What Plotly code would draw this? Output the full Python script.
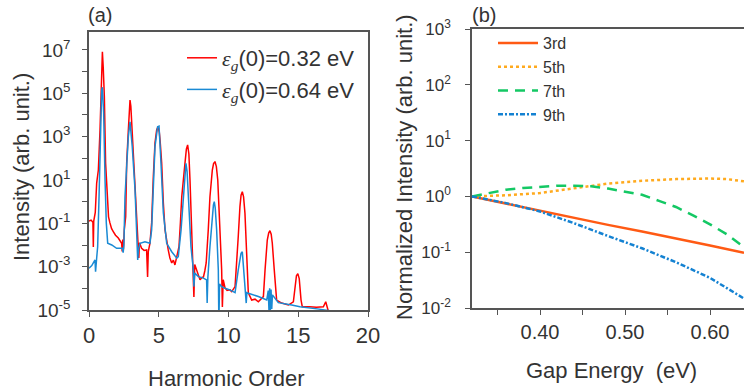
import plotly.graph_objects as go

# ---------------- Panel (a): HHG spectra (harmonic order vs log10 intensity) ----------------
red_x = [0.00, 0.15, 0.28, 0.31, 0.34, 0.45, 0.55, 0.67, 0.79, 0.86, 0.91, 0.96, 1.02, 1.10, 1.19, 1.29,
         1.40, 1.50, 1.62, 1.74, 1.90, 2.10, 2.25, 2.34, 2.38, 2.42, 2.47, 2.53, 2.63, 2.70, 2.82, 2.88, 2.94,
         3.00, 3.06, 3.18, 3.30, 3.42, 3.54, 3.57, 3.62, 3.77, 3.95, 4.13, 4.20, 4.25, 4.37, 4.49, 4.61, 4.73,
         4.85, 4.92, 4.98, 5.04, 5.10, 5.21, 5.33, 5.45, 5.68, 5.80, 5.93, 6.05, 6.16, 6.25, 6.36, 6.45, 6.55, 6.65,
         6.88, 6.98, 7.07, 7.16, 7.24, 7.36, 7.48, 7.52, 7.58, 7.72, 7.85, 7.96, 8.10, 8.20, 8.30, 8.40, 8.55,
         8.67, 8.84, 8.93, 9.03, 9.13, 9.23, 9.39, 9.51, 9.56, 9.62, 9.75, 9.90, 10.10, 10.23, 10.47, 10.60, 10.70,
         10.82, 10.90, 10.99, 11.08, 11.18, 11.30, 11.42, 11.66, 11.90, 12.14, 12.35, 12.50, 12.62, 12.78, 12.88,
         12.97, 13.06, 13.14, 13.28, 13.45, 13.81, 14.29, 14.65, 14.77, 14.87, 14.97, 15.07, 15.20, 15.29, 15.80,
         16.30, 16.80, 16.97, 17.15, 17.30]
red_log = [-0.90, -0.85, -0.95, -2.09, -0.90, -0.50, 0.86, 1.46, 3.31, 5.00, 6.40, 6.92, 6.20, 4.85, 1.78, 0.22,
           -0.70, -0.98, -1.25, -1.38, -1.55, -1.68, -1.80, -1.92, -2.30, -1.75, -2.20, -1.30, -0.69, 1.78, 3.31, 4.30, 4.69,
           4.40, 3.63, 2.08, 0.54, -0.69, -2.08, -2.60, -1.90, -2.15, -2.25, -2.23, -3.48, -2.30, -1.92, -0.98, 1.15, 2.70,
           3.31, 3.42, 3.38, 3.20, 2.80, 1.78, -0.06, -1.30, -2.23, -2.60, -2.83, -2.70, -2.92, -2.60, -2.23, -2.08, -1.00, 0.23,
           1.78, 2.42, 2.62, 2.20, 1.00, -1.30, -2.83, -4.40, -2.90, -3.15, -3.40, -3.61, -3.50, -3.48, -3.20, -2.83, -1.30,
           0.23, 1.46, 1.76, 1.85, 1.62, 1.00, -1.30, -3.15, -4.86, -3.60, -3.98, -4.10, -4.07, -4.15, -3.92, -2.80, -1.61,
           -0.23, 0.30, 0.46, 0.22, -0.54, -2.37, -4.21, -4.54, -4.50, -4.62, -4.50, -4.38, -3.15, -1.77, -1.45,
           -1.34, -1.50, -1.92, -3.15, -4.54, -4.68, -4.77, -4.62, -3.76, -3.42, -3.32, -3.55, -4.54, -4.85, -4.85,
           -4.87, -4.85, -4.62, -5.04, -5.20]

blue_x = [0.00, 0.20, 0.43, 0.47, 0.55, 0.62, 0.72, 0.81, 0.91, 0.96, 1.05, 1.15, 1.24, 1.34, 1.63, 1.98,
          2.39, 2.45, 2.50, 2.58, 2.70, 2.82, 2.94, 3.10, 3.30, 3.42, 3.49, 3.55, 3.66, 4.01, 4.37, 4.49,
          4.61, 4.73, 4.92, 5.02, 5.16, 5.33, 5.57, 5.93, 6.29, 6.40, 6.60, 6.76, 6.88, 6.95, 7.03, 7.12, 7.31, 7.48,
          7.52, 7.58, 7.84, 8.20, 8.43, 8.47, 8.52, 8.67, 8.84, 8.92, 8.98, 9.05, 9.15, 9.27, 9.31, 9.36, 9.51, 9.75,
          10.10, 10.47, 10.70, 10.90, 10.99, 11.11, 11.23, 11.27, 11.32, 11.42, 12.14, 12.74, 12.85, 12.90,
          12.95, 13.00, 13.05, 13.10, 13.15, 13.57, 14.53, 15.12, 16.50, 17.63]
blue_log = [-3.07, -2.95, -2.69, -3.23, -2.60, -2.08, 0.23, 3.31, 5.15, 5.28, 4.10, 1.00, -0.98, -1.92, -2.00, -2.15,
            -2.15, -2.35, -2.00, 0.23, 1.78, 3.00, 3.69, 2.54, 0.54, -1.30, -2.69, -2.20, -1.92, -1.85, -1.92, -1.30,
            0.54, 2.54, 3.46, 3.49, 1.78, -0.52, -1.92, -2.31, -2.61, -2.54, -1.30, 0.23, 1.45, 1.77, 1.40, 0.23, -2.08, -3.15,
            -3.92, -3.30, -3.46, -3.53, -3.61, -4.68, -3.50, -2.08, -0.69, -0.15, 0.00, -0.30, -1.30, -3.15, -5.60, -3.80, -3.92, -4.00,
            -4.07, -4.20, -3.15, -2.38, -2.31, -3.46, -4.23, -4.68, -4.20, -4.23, -4.38, -4.54, -4.10, -5.00,
            -4.00, -5.05, -4.05, -4.95, -4.30, -4.66, -4.77, -4.85, -4.96, -5.07]

# ---------------- Panel (b): normalized intensity vs gap energy (log10 values) ----------------
gap_3rd = [0.32, 0.36, 0.40, 0.44, 0.48, 0.52, 0.56, 0.60, 0.64]
log_3rd = [0.00, -0.13, -0.25, -0.39, -0.51, -0.63, -0.75, -0.88, -1.01]

gap_5th = [0.32, 0.36, 0.40, 0.44, 0.48, 0.52, 0.56, 0.60, 0.62, 0.64]
log_5th = [0.00, 0.02, 0.06, 0.14, 0.23, 0.28, 0.31, 0.32, 0.31, 0.27]

gap_7th = [0.32, 0.34, 0.36, 0.38, 0.40, 0.42, 0.44, 0.46, 0.48, 0.50, 0.52, 0.54, 0.56, 0.58, 0.60, 0.62, 0.64]
log_7th = [0.00, 0.06, 0.12, 0.15, 0.17, 0.19, 0.19, 0.18, 0.14, 0.09, 0.03, -0.08, -0.19, -0.34, -0.50, -0.68, -0.91]

gap_9th = [0.32, 0.36, 0.40, 0.44, 0.48, 0.52, 0.56, 0.60, 0.64]
log_9th = [0.00, -0.12, -0.27, -0.48, -0.71, -0.93, -1.18, -1.46, -1.83]

left_ytick_exp = [-5, -4, -3, -2, -1, 0, 1, 2, 3, 4, 5, 6, 7]
right_ytick_exp = [-2, -1, 0, 1, 2, 3]
left_xticks = [0, 5, 10, 15, 20]
right_xticks = [0.35, 0.40, 0.45, 0.50, 0.55, 0.60]
right_xtick_text = ["", "0.40", "", "0.50", "", "0.60"]


def pow10(vals):
    return [10 ** v for v in vals]


FONT = "Liberation Sans, Arial, sans-serif"
TXT = "#333333"
AX = "#555555"
EPS = "<span style=\"font-family:Liberation Serif\"><i>ε</i><sub><i>g</i></sub></span>"

fig = go.Figure()

fig.add_trace(go.Scatter(x=red_x, y=pow10(red_log), mode="lines",
                         line=dict(color="#ff0000", width=1.5),
                         name=EPS + "(0)=0.32 eV",
                         legendgroup="a1", legend="legend", xaxis="x", yaxis="y"))
fig.add_trace(go.Scatter(x=blue_x, y=pow10(blue_log), mode="lines",
                         line=dict(color="#1a8ad4", width=1.5),
                         name=EPS + "(0)=0.64 eV",
                         legendgroup="a2", legend="legend", xaxis="x", yaxis="y"))

fig.add_trace(go.Scatter(x=gap_3rd, y=pow10(log_3rd), mode="lines",
                         line=dict(color="#ff5a14", width=2.5), name="3rd",
                         legendgroup="b1", legend="legend2", xaxis="x2", yaxis="y2"))
fig.add_trace(go.Scatter(x=gap_5th, y=pow10(log_5th), mode="lines",
                         line=dict(color="#ffaa1e", width=2.5, dash="3px,3px"), name="5th",
                         legendgroup="b2", legend="legend2", xaxis="x2", yaxis="y2"))
fig.add_trace(go.Scatter(x=gap_7th, y=pow10(log_7th), mode="lines",
                         line=dict(color="#14c864", width=2.5, dash="10px,7px"), name="7th",
                         legendgroup="b3", legend="legend2", xaxis="x2", yaxis="y2"))
fig.add_trace(go.Scatter(x=gap_9th, y=pow10(log_9th), mode="lines",
                         line=dict(color="#1482d2", width=2.5, dash="5px,2px,2px,2px"), name="9th",
                         legendgroup="b4", legend="legend2", xaxis="x2", yaxis="y2"))

W, H = 744, 392
axis_common = dict(showline=True, linecolor=AX, linewidth=1.5, ticks="outside", ticklen=5,
                   tickcolor=AX, tickwidth=1.2, showgrid=False, zeroline=False, automargin=False)

fig.update_layout(
    width=W, height=H, margin=dict(l=0, r=0, t=0, b=0, pad=0, autoexpand=False),
    paper_bgcolor="white", plot_bgcolor="white",
    font=dict(family=FONT, color=TXT),
    xaxis=dict(domain=[89 / W, 368 / W], range=[0, 20], tickvals=left_xticks,
               tickfont=dict(size=22), mirror=True, anchor="y", **axis_common),
    yaxis=dict(domain=[(H - 310) / H, (H - 32) / H], type="log", range=[-5, 7.83],
               tickvals=[10 ** e for e in left_ytick_exp],
               ticktext=[("10<sup>%d</sup>" % e) if e % 2 else "" for e in left_ytick_exp],
               tickfont=dict(size=19), ticklabelstandoff=8, mirror=True, anchor="x", **axis_common),
    xaxis2=dict(domain=[472 / W, 1.0], range=[0.32, 0.64], tickvals=right_xticks,
                ticktext=right_xtick_text, tickfont=dict(size=20), mirror=True, anchor="y2",
                **axis_common),
    yaxis2=dict(domain=[(H - 308) / H, (H - 29) / H], type="log", range=[-2, 3],
                tickvals=[10 ** e for e in right_ytick_exp],
                ticktext=["10<sup>%d</sup>" % e for e in right_ytick_exp],
                tickfont=dict(size=17), ticklabelstandoff=11, mirror=False, anchor="x2", **axis_common),
    legend=dict(x=182 / W, y=(H - 37) / H, xanchor="left", yanchor="top",
                bgcolor="rgba(0,0,0,0)", font=dict(size=22, color=TXT), tracegroupgap=0),
    legend2=dict(x=493 / W, y=(H - 26) / H, xanchor="left", yanchor="top", itemwidth=40,
                 bgcolor="rgba(0,0,0,0)", font=dict(size=16, color=TXT), tracegroupgap=0),
    showlegend=True,
)

ann = [
    dict(text="(a)", x=100 / W, y=(H - 15) / H, font=dict(size=20)),
    dict(text="(b)", x=484 / W, y=(H - 15) / H, font=dict(size=20)),
    dict(text="Harmonic Order", x=226 / W, y=(H - 378) / H, font=dict(size=22)),
    dict(text="Gap Energy\u00a0 (eV)", x=611 / W, y=(H - 370) / H, font=dict(size=22)),
    dict(text="Intensity (arb. unit.)", x=22 / W, y=(H - 167) / H, font=dict(size=22), textangle=-90),
    dict(text="Normalized Intensity (arb. unit.)", x=405 / W, y=(H - 167) / H, font=dict(size=22), textangle=-90),
]
for a in ann:
    fig.add_annotation(xref="paper", yref="paper", showarrow=False, xanchor="center", yanchor="middle",
                       font_color=TXT, **a)

fig.write_html("out.html")
